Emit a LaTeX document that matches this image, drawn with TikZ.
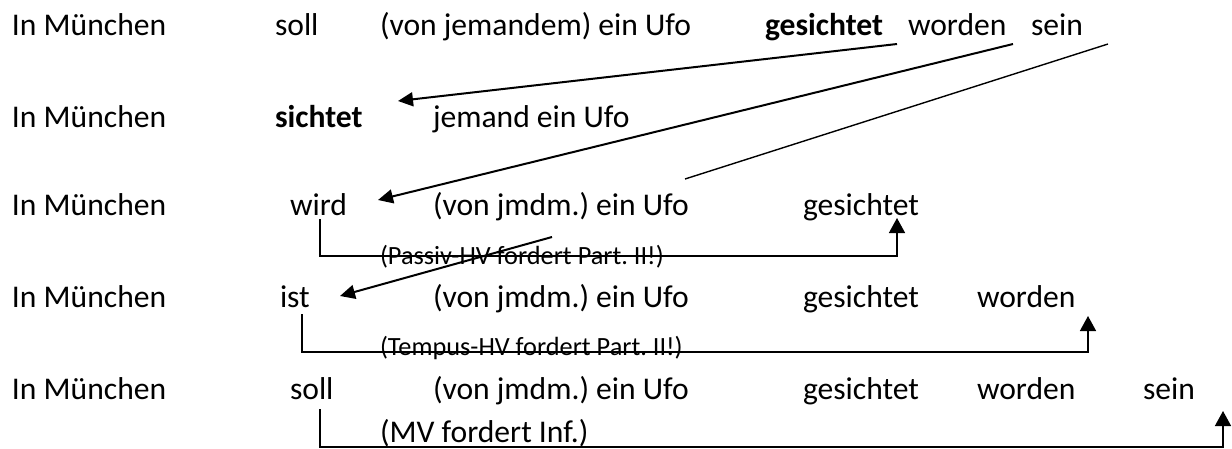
\documentclass[tikz,border=0pt]{standalone}
\usepackage{fontspec}
\setmainfont{Carlito}
\usetikzlibrary{arrows.meta}
\frenchspacing
\tikzset{
  w/.style={anchor=base west, inner sep=0pt, outer sep=0pt, font=\fontsize{31.6}{36}\selectfont},
  sm/.style={anchor=base west, inner sep=0pt, outer sep=0pt, font=\fontsize{26.3}{30}\selectfont},
  bw/.style={w, font=\fontsize{31.6}{36}\selectfont\bfseries},
  diagarrow/.style={line width=2pt, -{Triangle[width=14pt,length=15pt]}},
  thinline/.style={line width=1.4pt},
  bracket/.style={line width=1.5pt, -{Triangle[width=16pt,length=15pt]}},
}
\begin{document}
\begin{tikzpicture}[x=1pt,y=-1pt]
\useasboundingbox (0,0) rectangle (1232,448);
% row 1
\node[w] (r1a) at (12,35) {In München};
\node[w] (r1b) at (275,35) {soll};
\node[w] (r1c) at (380,35) {(von jemandem) ein Ufo};
\node[bw] (r1d) at (765,35) {gesichtet};
\node[w] (r1e) at (908,35) {worden};
\node[w] (r1f) at (1031,35) {sein};
% row 2
\node[w] (r2a) at (12,127) {In München};
\node[bw] (r2b) at (275,127) {sichtet};
\node[w] (r2c) at (433,127) {jemand ein Ufo};
% row 3
\node[w] (r3a) at (12,215) {In München};
\node[w] (r3b) at (290,215) {wird};
\node[w] (r3c) at (433,215) {(von jmdm.) ein Ufo};
\node[w] (r3d) at (803,215) {gesichtet};
\node[sm] (l1) at (380,264) {(Passiv-HV fordert Part. II!)};
% row 4
\node[w] (r4a) at (12,307) {In München};
\node[w] (r4b) at (280,307) {ist};
\node[w] (r4c) at (433,307) {(von jmdm.) ein Ufo};
\node[w] (r4d) at (803,307) {gesichtet};
\node[w] (r4e) at (977,307) {worden};
\node[sm] (l2) at (380,355) {(Tempus-HV fordert Part. II!)};
% row 5
\node[w] (r5a) at (12,399) {In München};
\node[w] (r5b) at (290,399) {soll};
\node[w] (r5c) at (433,399) {(von jmdm.) ein Ufo};
\node[w] (r5d) at (803,399) {gesichtet};
\node[w] (r5e) at (977,399) {worden};
\node[w] (r5f) at (1143,399) {sein};
\node[w] (l3) at (380,442) {(MV fordert Inf.)};
% connector coordinates
\coordinate (g1) at (897,44);
\coordinate (t1) at (398,101);
\coordinate (g2) at (1013,44);
\coordinate (t2) at (378,200);
\coordinate (g3) at (1108,44);
\coordinate (e3) at (685,179);
\coordinate (g4) at (552,237);
\coordinate (t4) at (340,296);
\coordinate (pa) at (320,219);
\coordinate (pb) at (320,256);
\coordinate (pc) at (897,256);
\coordinate (pd) at (897,218);
\coordinate (qa) at (302,314);
\coordinate (qb) at (302,352);
\coordinate (qc) at (1088,352);
\coordinate (qd) at (1088,316);
\coordinate (ma) at (320,409);
\coordinate (mb) at (320,447);
\coordinate (mc) at (1223,447);
\coordinate (md) at (1223,411);
% connectors
\draw[diagarrow] (g1) -- (t1);
\draw[diagarrow] (g2) -- (t2);
\draw[thinline] (g3) -- (e3);
\draw[diagarrow] (g4) -- (t4);
\draw[bracket] (pa) -- (pb) -- (pc) -- (pd);
\draw[bracket] (qa) -- (qb) -- (qc) -- (qd);
\draw[bracket] (ma) -- (mb) -- (mc) -- (md);
\end{tikzpicture}
\end{document}
